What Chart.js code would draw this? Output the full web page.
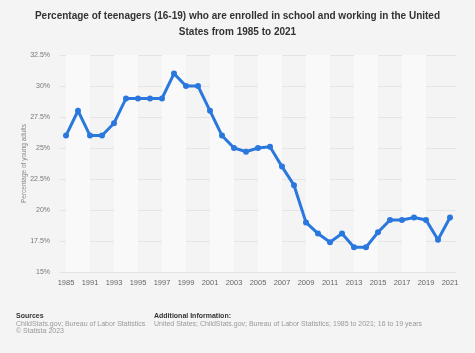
<!DOCTYPE html>
<html>
<head>
<meta charset="utf-8">
<script src="https://cdn.jsdelivr.net/npm/chart.js@4"></script>
<style>
  html, body { margin: 0; padding: 0; background: #f4f4f4; }
  body { width: 475px; height: 353px; position: relative; overflow: hidden; font-family: "Liberation Sans", Arial, sans-serif; }
  #wrap { position: absolute; left: 0; top: 0; width: 475px; height: 353px; }
  #title { position: absolute; left: 0; top: 8px; width: 475px; text-align: center; font-size: 10px; font-weight: bold; color: #333; line-height: 16px; }
  .foot { position: absolute; font-size: 7px; line-height: 7.5px; color: #999; }
  .foot b { color: #333; font-weight: bold; }
</style>
</head>
<body>
<div id="wrap"><canvas id="chart"></canvas></div>
<div id="title">Percentage of teenagers (16-19) who are enrolled in school and working in the United<br>States from 1985 to 2021</div>
<div class="foot" style="left:16px; top:312px;"><b>Sources</b><br>ChildStats.gov; Bureau of Labor Statistics<br>© Statista 2023</div>
<div class="foot" style="left:154px; top:312px;"><b>Additional Information:</b><br>United States; ChildStats.gov; Bureau of Labor Statistics; 1985 to 2021; 16 to 19 years</div>
<script>
// years on the x axis (1986-1989 not in the data)
const years = ["1985", "1990", "1991", "1992", "1993", "1994", "1995", "1996", "1997", "1998",
  "1999", "2000", "2001", "2002", "2003", "2004", "2005", "2006", "2007", "2008",
  "2009", "2010", "2011", "2012", "2013", "2014", "2015", "2016", "2017", "2018",
  "2019", "2020", "2021"];
// share of 16-19 year olds in school and working, percent
const shares = [26, 28, 26, 26, 27, 29, 29, 29, 29, 31,
  30, 30, 28, 26, 25, 24.7, 25, 25.1, 23.5, 22,
  19, 18.1, 17.4, 18.1, 17, 17, 18.2, 19.2, 19.2, 19.4,
  19.2, 17.6, 19.4];
const yTicks = [15, 17.5, 20, 22.5, 25, 27.5, 30, 32.5];

const blue = "#2a78de";

// light vertical bands every other pair of years
const bandPlugin = {
  id: "bands",
  beforeDatasetsDraw(chart) {
    const c = chart.ctx;
    const area = chart.chartArea;
    const x = chart.scales.x;
    c.save();
    c.fillStyle = "#f9f9f9";
    for (let i = 0; i + 2 < years.length; i += 4) {
      const x1 = x.getPixelForValue(i);
      const x2 = x.getPixelForValue(i + 2);
      c.fillRect(x1, area.top, x2 - x1, area.bottom - area.top);
    }
    c.restore();
  }
};

const ctx = document.getElementById("chart").getContext("2d");
new Chart(ctx, {
  type: "line",
  data: {
    labels: years,
    datasets: [{
      data: shares,
      borderColor: blue,
      backgroundColor: blue,
      borderWidth: 3,
      pointRadius: 3,
      pointBackgroundColor: blue,
      pointBorderWidth: 0,
      tension: 0
    }]
  },
  options: {
    responsive: true,
    maintainAspectRatio: false,
    animation: false,
    layout: { padding: { left: 20, right: 19, top: 55, bottom: 61 } },
    plugins: {
      legend: { display: false },
      tooltip: { enabled: false }
    },
    scales: {
      x: {
        offset: true,
        grid: { display: false, drawTicks: false },
        border: { display: false },
        afterFit(scale) { scale.height = 20; },
        ticks: {
          autoSkip: false,
          maxRotation: 0,
          padding: 6,
          color: "#666",
          font: { family: "Liberation Sans", size: 7.5 },
          callback: (v, i) => (i % 2 === 0 ? years[i] : "")
        }
      },
      y: {
        min: 15,
        max: 32.5,
        afterBuildTicks(scale) { scale.ticks = yTicks.map(v => ({ value: v })); },
        afterFit(scale) { scale.width = 40; },
        border: { display: false },
        grid: { color: "#e4e4e4", lineWidth: 1, drawTicks: false },
        title: {
          display: true,
          text: "Percentage of young adults",
          color: "#888",
          font: { family: "Liberation Sans", size: 6.5 },
          padding: { top: 0, bottom: 4 }
        },
        ticks: {
          padding: 10,
          color: "#777",
          font: { family: "Liberation Sans", size: 7 },
          callback: v => v + "%"
        }
      }
    }
  },
  plugins: [bandPlugin]
});
</script>
</body>
</html>
